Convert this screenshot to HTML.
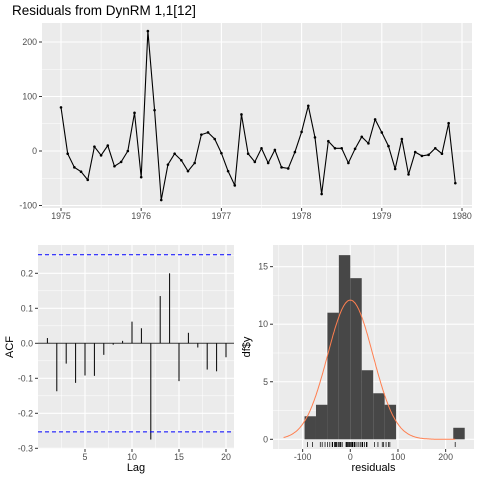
<!DOCTYPE html>
<html><head><meta charset="utf-8"><style>
body{margin:0;background:#fff;font-family:"Liberation Sans",sans-serif}
svg text{font-family:"Liberation Sans",sans-serif}
</style></head><body>
<svg id="s" width="480" height="480" viewBox="0 0 480 480">
<rect width="480" height="480" fill="#fff"/>
<text x="12" y="15" font-size="13.5" fill="#000">Residuals from DynRM 1,1[12]</text>
<g id="top"></g>
<g id="acf"></g>
<g id="hist"></g>
</svg>
<script>
const residuals = [80,-5,-30,-38,-53,8,-8,10,-28,-20,0,70,
 -48,220,75,-90,-25,-5,-17,-37,-22,30,34,22,
 -4,-37,-63,67,-5,-20,5,-22,2,-30,-32,-2,
 35,83,25,-79,18,5,5,-22,4,26,14,58,
 34,9,-33,22,-43,-2,-9,-7,5,-5,51,-59];
const startYear = 1975;
const topYTicks = [-100,0,100,200];
const topXTicks = [1975,1976,1977,1978,1979,1980];
const acfLags = [1,2,3,4,5,6,7,8,9,10,11,12,13,14,15,16,17,18,19,20];
const acfValues = [0.015,-0.137,-0.058,-0.113,-0.092,-0.093,-0.033,-0.004,0.007,0.062,0.043,-0.275,0.135,0.200,-0.108,0.030,-0.012,-0.075,-0.080,-0.040];
const acfCI = 0.253;
const acfYTicks = [-0.3,-0.2,-0.1,0.0,0.1,0.2];
const acfXTicks = [5,10,15,20];
const binStart = -96, binWidth = 24;
const binCounts = [2,3,11,16,14,6,4,3,0,0,0,0,0,1];
const histYTicks = [0,5,10,15];
const histXTicks = [-100,0,100,200];
const normMean = 0, normSd = 47.5;
const FS = 8.8;

const NS="http://www.w3.org/2000/svg";
function el(p,t,a){const e=document.createElementNS(NS,t);for(const k in a)e.setAttribute(k,a[k]);p.appendChild(e);return e;}
function txt(p,x,y,s,anchor,size,fill){const e=el(p,'text',{x:x,y:y,'text-anchor':anchor,'font-size':size,fill:fill});e.textContent=s;return e;}
function panel(g,x0,y0,x1,y1){const r=el(g,'rect',{x:x0,y:y0,width:x1-x0,height:y1-y0,fill:'#ebebeb'});

}
function grid(g,x0,y0,x1,y1,xs,ys,w){xs.forEach(x=>el(g,'line',{x1:x,x2:x,y1:y0,y2:y1,stroke:'#fff','stroke-width':w}));ys.forEach(y=>el(g,'line',{x1:x0,x2:x1,y1:y,y2:y,stroke:'#fff','stroke-width':w}));}

// TOP
(function(){
const g=document.getElementById('top');
const X0=42,X1=472,Y0=23,Y1=208;
const sx=t=>61+(t-1975)*80.2, sy=v=>151-v*0.545;
panel(g,X0,Y0,X1,Y1);
const minX=[],minY=[];topXTicks.forEach(t=>minX.push(sx(t+0.5)));minX.push(sx(1974.5));
for(let i=0;i<topYTicks.length;i++)minY.push(sy(topYTicks[i]+50));
grid(g,X0,Y0,X1,Y1,minX.filter(x=>x>X0&&x<X1),minY.filter(y=>y>Y0&&y<Y1),0.5);
grid(g,X0,Y0,X1,Y1,topXTicks.map(sx),topYTicks.map(sy),1.1);
topYTicks.forEach(v=>{el(g,'line',{x1:X0-3,x2:X0,y1:sy(v),y2:sy(v),stroke:'#333'});
const t=txt(g,X0-5,sy(v)+3,String(v),'end',FS,'#4d4d4d');

});
topXTicks.forEach(v=>{el(g,'line',{x1:sx(v),x2:sx(v),y1:Y1,y2:Y1+3,stroke:'#333'});
const t=txt(g,sx(v),Y1+11,String(v),'middle',FS,'#4d4d4d');

});
const pts=residuals.map((v,i)=>[sx(startYear+i/12),sy(v)]);
const pl=el(g,'polyline',{points:pts.map(p=>p.join(',')).join(' '),fill:'none',stroke:'#000','stroke-width':1.1});


pts.forEach(p=>{const c=el(g,'circle',{cx:p[0],cy:p[1],r:1.3,fill:'#000'});

});
})();

// ACF
(function(){
const g=document.getElementById('acf');
const X0=38,X1=234,Y0=245,Y1=449;
const sx=l=>38+l*9.4, sy=v=>343.3-v*350;
panel(g,X0,Y0,X1,Y1);
grid(g,X0,Y0,X1,Y1,[2.5,7.5,12.5,17.5].map(sx),[-0.25,-0.15,-0.05,0.05,0.15,0.25].map(sy),0.5);
grid(g,X0,Y0,X1,Y1,acfXTicks.map(sx),acfYTicks.map(sy),1.1);
el(g,'line',{x1:X0,x2:X1,y1:sy(0),y2:sy(0),stroke:'#333','stroke-width':1});
acfLags.forEach((l,i)=>{const b=el(g,'line',{x1:sx(l),x2:sx(l),y1:sy(0),y2:sy(acfValues[i]),stroke:'#000','stroke-width':1});

});
[acfCI,-acfCI].forEach(c=>{const l=el(g,'line',{x1:X0,x2:X1,y1:sy(c),y2:sy(c),stroke:'#0000ff','stroke-width':1,'stroke-dasharray':'4,3'});

});
acfYTicks.forEach(v=>{el(g,'line',{x1:X0-3,x2:X0,y1:sy(v),y2:sy(v),stroke:'#333'});
const t=txt(g,X0-5,sy(v)+3,v.toFixed(1),'end',FS,'#4d4d4d');

});
acfXTicks.forEach(v=>{el(g,'line',{x1:sx(v),x2:sx(v),y1:Y1,y2:Y1+3,stroke:'#333'});
const t=txt(g,sx(v),Y1+11,String(v),'middle',FS,'#4d4d4d');

});
const xt=txt(g,(X0+X1)/2,471,'Lag','middle',11,'#000');


const yt=txt(g,0,0,'ACF','middle',11,'#000');yt.setAttribute('transform','translate(13,'+((Y0+Y1)/2)+') rotate(-90)');


})();

// HIST
(function(){
const g=document.getElementById('hist');
const X0=273,X1=474,Y0=245,Y1=449;
const sx=v=>350.3+v*0.4767, sy=c=>439.3-c*11.51;
panel(g,X0,Y0,X1,Y1);
grid(g,X0,Y0,X1,Y1,[-150,-50,50,150].map(sx),[2.5,7.5,12.5].map(sy),0.5);
grid(g,X0,Y0,X1,Y1,histXTicks.map(sx),histYTicks.map(sy),1.1);
binCounts.forEach((c,i)=>{if(!c)return;const a=binStart+i*binWidth;
const r=el(g,'rect',{x:sx(a),y:sy(c),width:sx(a+binWidth)-sx(a),height:sy(0)-sy(c),fill:'#474747'});

});
let d='';const n=residuals.length;
for(let v=-140;v<=220;v+=2){const y=n*binWidth*Math.exp(-0.5*((v-normMean)/normSd)**2)/(normSd*Math.sqrt(2*Math.PI));d+=(d?'L':'M')+sx(v).toFixed(1)+','+sy(y).toFixed(1);}
const p=el(g,'path',{d:d,fill:'none',stroke:'#ff7f50','stroke-width':1});


residuals.forEach(v=>{const r=el(g,'line',{x1:sx(v),x2:sx(v),y1:442,y2:447,stroke:'#000','stroke-width':0.7});

});
histYTicks.forEach(v=>{el(g,'line',{x1:X0-3,x2:X0,y1:sy(v),y2:sy(v),stroke:'#333'});
const t=txt(g,X0-5,sy(v)+3,String(v),'end',FS,'#4d4d4d');

});
histXTicks.forEach(v=>{el(g,'line',{x1:sx(v),x2:sx(v),y1:Y1,y2:Y1+3,stroke:'#333'});
const t=txt(g,sx(v),Y1+11,String(v),'middle',FS,'#4d4d4d');

});
const xt=txt(g,(X0+X1)/2,471,'residuals','middle',11,'#000');


const yt=txt(g,0,0,'df$y','middle',11,'#000');yt.setAttribute('transform','translate(250,'+((Y0+Y1)/2)+') rotate(-90)');


})();
</script>
</body></html>
